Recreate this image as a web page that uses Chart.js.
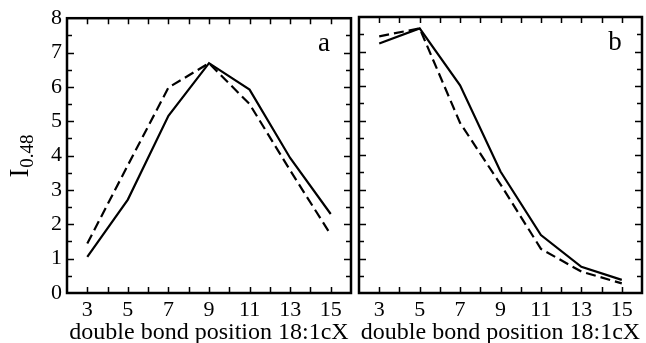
<!DOCTYPE html>
<html>
<head>
<meta charset="utf-8">
<title>I 0.48 vs double bond position</title>
<script src="https://cdn.jsdelivr.net/npm/chart.js@4/dist/chart.umd.min.js"></script>
<style>
  body { margin: 0; background: #fff; }
  #wrap { position: relative; width: 646px; height: 343px; }
  canvas { position: absolute; top: 0; }
  #left { left: 0; }
  #right { left: 355px; }
</style>
</head>
<body>
<div id="wrap">
  <canvas id="left" width="355" height="343"></canvas>
  <canvas id="right" width="291" height="343"></canvas>
</div>
<script>
// double bond position (x) and I0.48 values
const positions = [3, 5, 7, 9, 11, 13, 15];
const aSolid  = [1.05, 2.72, 5.16, 6.69, 5.92, 3.93, 2.30];
const aDashed = [1.44, 3.72, 5.98, 6.69, 5.50, 3.57, 1.70];
const bSolid  = [7.23, 7.67, 6.02, 3.52, 1.68, 0.76, 0.38];
const bDashed = [7.44, 7.67, 4.93, 3.15, 1.28, 0.62, 0.28];

const xTickLabels = [3, 5, 7, 9, 11, 13, 15];
const yTickLabels = [0, 1, 2, 3, 4, 5, 6, 7, 8];
const xTitle = 'double bond position 18:1cX';

const serif = "'Liberation Serif', 'DejaVu Serif', serif";

const pts = ys => positions.map((x, i) => ({ x: x, y: ys[i] }));

// frame + inward ticks on all four sides, and the panel letter
const framePlugin = {
  id: 'frame',
  afterDraw(chart, args, opts) {
    const ctx = chart.ctx;
    const a = chart.chartArea;
    const xs = chart.scales.x, ys = chart.scales.y;
    ctx.save();
    ctx.strokeStyle = '#000';
    ctx.lineWidth = 1.5;
    ctx.beginPath();
    for (let v = xs.min + 1; v < xs.max; v++) {
      const px = Math.round(xs.getPixelForValue(v)) + 0.5;
      ctx.moveTo(px, a.bottom); ctx.lineTo(px, a.bottom - 6);
      ctx.moveTo(px, a.top); ctx.lineTo(px, a.top + 6);
    }
    for (let v = ys.min + 0.5; v < ys.max; v += 0.5) {
      const py = Math.round(ys.getPixelForValue(v)) + 0.5;
      const len = Number.isInteger(v) ? 7 : 5;
      ctx.moveTo(a.left, py); ctx.lineTo(a.left + len, py);
      ctx.moveTo(a.right, py); ctx.lineTo(a.right - len, py);
    }
    ctx.stroke();
    ctx.lineWidth = 2.5;
    ctx.strokeRect(a.left, a.top, a.right - a.left, a.bottom - a.top);
    ctx.fillStyle = '#000';
    ctx.font = '27px ' + serif;
    ctx.textAlign = 'center';
    ctx.textBaseline = 'alphabetic';
    ctx.fillText(opts.letter, a.right - 27, a.top + 33);
    if (opts.yTitle) {
      // rotated "I" with subscript "0.48"
      ctx.translate(28, 156);
      ctx.rotate(-Math.PI / 2);
      ctx.font = '27px ' + serif;
      const wI = ctx.measureText('I').width;
      ctx.font = '19px ' + serif;
      const wS = ctx.measureText('0.48').width;
      const start = -(wI + wS + 1) / 2;
      ctx.textAlign = 'left';
      ctx.font = '27px ' + serif;
      ctx.fillText('I', start, 0);
      ctx.font = '19px ' + serif;
      ctx.fillText('0.48', start + wI + 1, 5);
    }
    ctx.restore();
  }
};

function makeChart(id, solid, dashed, letter, showY) {
  return new Chart(document.getElementById(id), {
    type: 'line',
    data: {
      datasets: [
        { data: pts(solid), borderColor: '#000', borderWidth: 2.2, pointRadius: 0, tension: 0 },
        { data: pts(dashed), borderColor: '#000', borderWidth: 2.2, borderDash: [10, 5], pointRadius: 0, tension: 0 }
      ]
    },
    options: {
      responsive: false,
      animation: false,
      events: [],
      layout: { padding: { left: 0, right: showY ? 1 : 2, top: 17, bottom: 0 } },
      plugins: {
        legend: { display: false },
        tooltip: { enabled: false },
        frame: { letter: letter, yTitle: showY }
      },
      scales: {
        x: {
          type: 'linear',
          min: 2, max: 16,
          grid: { display: false, drawTicks: false },
          border: { display: false },
          afterFit: s => { s.height = 50; },
          ticks: {
            stepSize: 1,
            padding: 4,
            maxRotation: 0,
            autoSkip: false,
            color: '#000',
            font: { family: serif, size: 22 },
            callback: v => xTickLabels.includes(v) ? String(v) : ''
          },
          title: {
            display: true,
            text: xTitle,
            color: '#000',
            font: { family: serif, size: 24, lineHeight: 1 },
            padding: { top: 0, bottom: -2 }
          }
        },
        y: {
          display: showY,
          min: 0, max: 8,
          grid: { display: false, drawTicks: false },
          border: { display: false },
          afterFit: s => { s.width = showY ? 67 : 0; },
          ticks: {
            stepSize: 1,
            padding: 5,
            color: '#000',
            font: { family: serif, size: 22 },
            callback: v => yTickLabels.includes(v) ? String(v) : ''
          }
        }
      }
    },
    plugins: [framePlugin]
  });
}

makeChart('left', aSolid, aDashed, 'a', true);
makeChart('right', bSolid, bDashed, 'b', false);
</script>
</body>
</html>
